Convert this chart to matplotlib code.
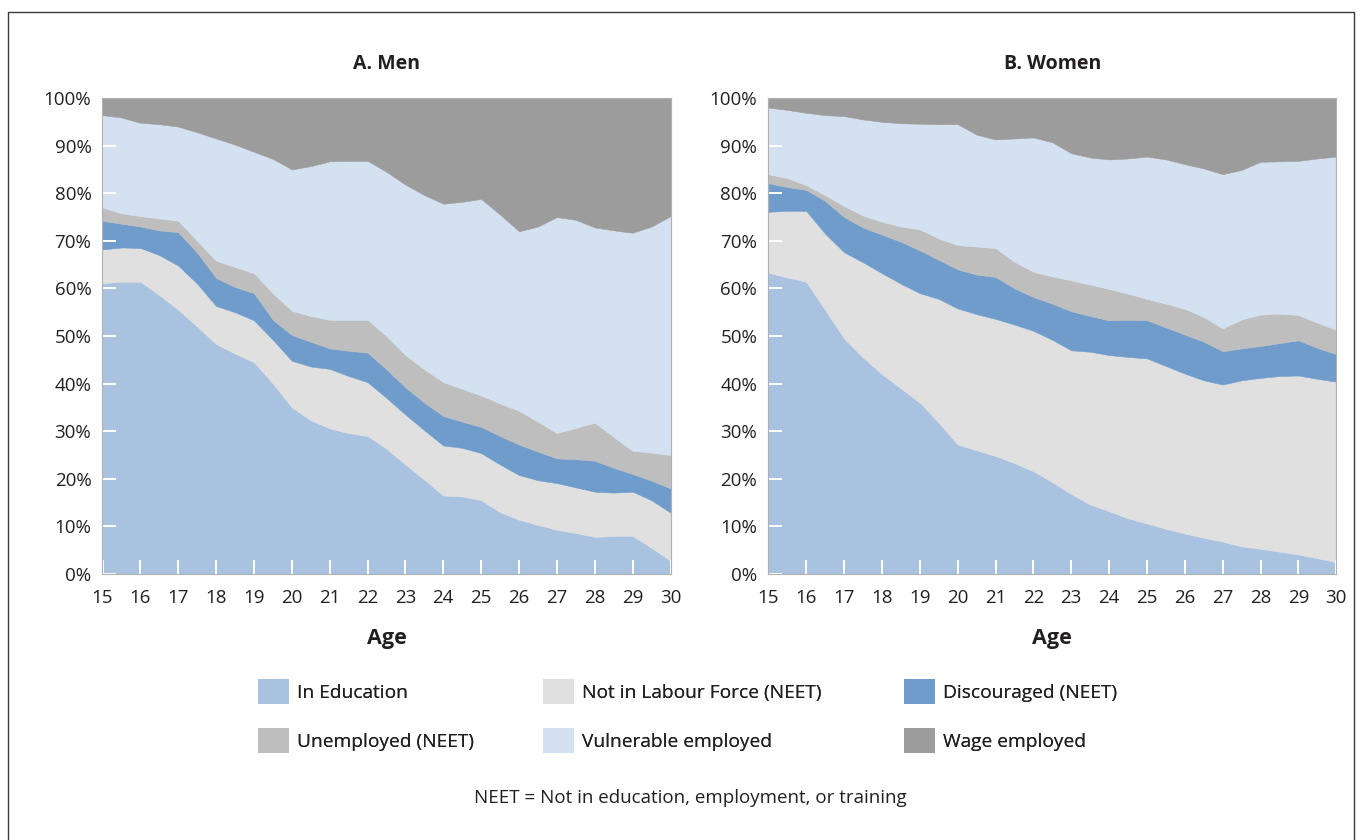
import numpy as np
import matplotlib.pyplot as plt
from matplotlib.patches import Patch, Rectangle

plt.rcParams['font.family'] = ['Open Sans', 'DejaVu Sans']

ages = [15, 15.5, 16, 16.5, 17, 17.5, 18, 18.5, 19, 19.5, 20, 20.5, 21, 21.5, 22, 22.5,
        23, 23.5, 24, 24.5, 25, 25.5, 26, 26.5, 27, 27.5, 28, 28.5, 29, 29.5, 30]

# upper edge of each band, cumulative share in % (wage employed fills up to 100)
men_edu = [61.1, 61.4, 61.4, 58.6, 55.5, 52.0, 48.3, 46.3, 44.5, 40.0, 35.0, 32.3, 30.6, 29.6, 29.0, 26.3,
           23.0, 19.8, 16.5, 16.3, 15.5, 13.0, 11.4, 10.3, 9.3, 8.6, 7.8, 8.0, 8.0, 5.5, 2.8]
men_nlf = [68.2, 68.6, 68.5, 67.0, 64.8, 61.0, 56.3, 55.0, 53.3, 49.2, 44.8, 43.6, 43.1, 41.6, 40.3, 37.0,
           33.5, 30.2, 27.0, 26.5, 25.4, 23.0, 20.8, 19.7, 19.1, 18.2, 17.3, 17.1, 17.3, 15.5, 12.9]
men_disc = [74.2, 73.6, 73.0, 72.2, 71.8, 67.5, 62.2, 60.3, 59.0, 53.4, 50.2, 48.8, 47.4, 46.9, 46.5, 43.0,
            39.2, 36.0, 33.2, 32.0, 30.9, 29.0, 27.2, 25.7, 24.3, 24.1, 23.8, 22.3, 21.0, 19.6, 18.0]
men_unemp = [77.0, 75.8, 75.2, 74.7, 74.2, 70.0, 65.8, 64.5, 63.2, 59.0, 55.3, 54.2, 53.4, 53.4, 53.4, 50.0,
             46.0, 43.0, 40.3, 38.9, 37.5, 35.8, 34.3, 32.0, 29.6, 30.7, 31.8, 28.8, 25.9, 25.5, 25.0]
men_vuln = [96.4, 95.9, 94.8, 94.5, 94.0, 92.8, 91.5, 90.2, 88.7, 87.2, 85.0, 85.7, 86.7, 86.8, 86.8, 84.5,
            81.8, 79.6, 77.8, 78.2, 78.8, 75.5, 72.0, 73.0, 75.0, 74.4, 72.8, 72.2, 71.7, 73.0, 75.2]

women_edu = [63.3, 62.3, 61.4, 55.5, 49.5, 45.5, 42.0, 39.0, 36.0, 31.8, 27.2, 26.0, 24.8, 23.3, 21.6, 19.3,
             16.8, 14.6, 13.2, 11.7, 10.6, 9.5, 8.5, 7.6, 6.8, 5.8, 5.3, 4.7, 4.1, 3.3, 2.5]
women_nlf = [76.1, 76.3, 76.3, 71.5, 67.6, 65.5, 63.2, 61.0, 59.0, 57.8, 55.8, 54.6, 53.6, 52.4, 51.1, 49.2,
             47.0, 46.7, 46.0, 45.6, 45.3, 43.7, 42.1, 40.7, 39.8, 40.7, 41.2, 41.6, 41.7, 41.0, 40.4]
women_disc = [82.1, 81.3, 80.7, 78.4, 75.0, 72.8, 71.3, 69.8, 68.0, 66.0, 64.0, 62.9, 62.4, 60.0, 58.2, 56.8,
              55.2, 54.2, 53.3, 53.4, 53.3, 51.8, 50.3, 48.8, 46.8, 47.4, 47.9, 48.5, 49.1, 47.5, 46.2]
women_unemp = [84.0, 83.2, 81.7, 79.6, 77.3, 75.3, 74.0, 73.0, 72.4, 70.5, 69.1, 68.8, 68.5, 65.6, 63.5, 62.5,
               61.7, 60.8, 59.9, 58.9, 57.8, 56.8, 55.7, 54.0, 51.6, 53.5, 54.5, 54.7, 54.4, 52.8, 51.3]
women_vuln = [98.0, 97.5, 96.9, 96.4, 96.2, 95.5, 95.0, 94.7, 94.6, 94.5, 94.5, 92.3, 91.3, 91.5, 91.7, 90.7,
              88.4, 87.5, 87.1, 87.3, 87.7, 87.1, 86.1, 85.2, 84.0, 84.9, 86.6, 86.7, 86.8, 87.3, 87.7]

labels = ['In Education', 'Not in Labour Force (NEET)', 'Discouraged (NEET)',
          'Unemployed (NEET)', 'Vulnerable employed', 'Wage employed']
colors = ['#a9c2e0', '#e0e0e0', '#6f9ccb', '#bebebe', '#d4e1f0', '#9c9c9c']

W, H = 1361, 840
fig = plt.figure(figsize=(W / 100, H / 100), dpi=100)

# outer frame
fig.add_artist(Rectangle((8 / W, -0.01), 1346 / W, 1 - 12 / H + 0.01, transform=fig.transFigure,
                         fill=False, edgecolor='#3a3a3a', linewidth=1))


def draw_panel(left_px, edges, title):
    ax = fig.add_axes([left_px / W, 1 - 574 / H, 568 / W, 476 / H])
    lower = np.zeros(len(ages))
    tops = [np.asarray(e, dtype=float) for e in edges] + [np.full(len(ages), 100.0)]
    for top, c in zip(tops, colors):
        ax.fill_between(ages, lower, top, facecolor=c, edgecolor=c, linewidth=0.4)
        lower = top
    ax.set_xlim(15, 30)
    ax.set_ylim(0, 100)
    ax.set_xticks(range(15, 31))
    ax.set_yticks(range(0, 101, 10))
    ax.set_yticklabels([f'{v}%' for v in range(0, 101, 10)])
    ax.tick_params(direction='in', color='white', length=10, width=1.4,
                   labelsize=13.5, labelcolor='#231f20')
    ax.tick_params(axis='x', pad=11)
    ax.tick_params(axis='y', pad=8)
    for s in ax.spines.values():
        s.set_color('#b0b0b0')
        s.set_linewidth(0.8)
    ax.set_title(title, fontsize=14, fontweight='bold', color='#231f20', pad=21)
    ax.set_xlabel('Age', fontsize=15.5, fontweight='bold', color='#231f20', labelpad=15)
    return ax


draw_panel(102.5, [men_edu, men_nlf, men_disc, men_unemp, men_vuln], 'A. Men')
draw_panel(768.3, [women_edu, women_nlf, women_disc, women_unemp, women_vuln], 'B. Women')

# legend: three columns of two entries, filled row by row
handles = [Patch(facecolor=c, edgecolor='none') for c in colors]
col_left_px = [258, 543, 904]
for j, xpx in enumerate(col_left_px):
    idx = [j, j + 3]
    leg = fig.legend([handles[i] for i in idx], [labels[i] for i in idx],
                     loc='upper left', bbox_to_anchor=(xpx / W, 1 - 679 / H), frameon=False,
                     fontsize=13.8, handlelength=1.6, handleheight=1.6, handletextpad=0.45,
                     labelspacing=1.28, borderpad=0, borderaxespad=0,
                     labelcolor='#231f20')
    fig.add_artist(leg)

fig.text(690 / W, 1 - 798 / H, 'NEET = Not in education, employment, or training',
         ha='center', va='center', fontsize=13.5, color='#231f20')

fig.savefig('out.png', dpi=100)
